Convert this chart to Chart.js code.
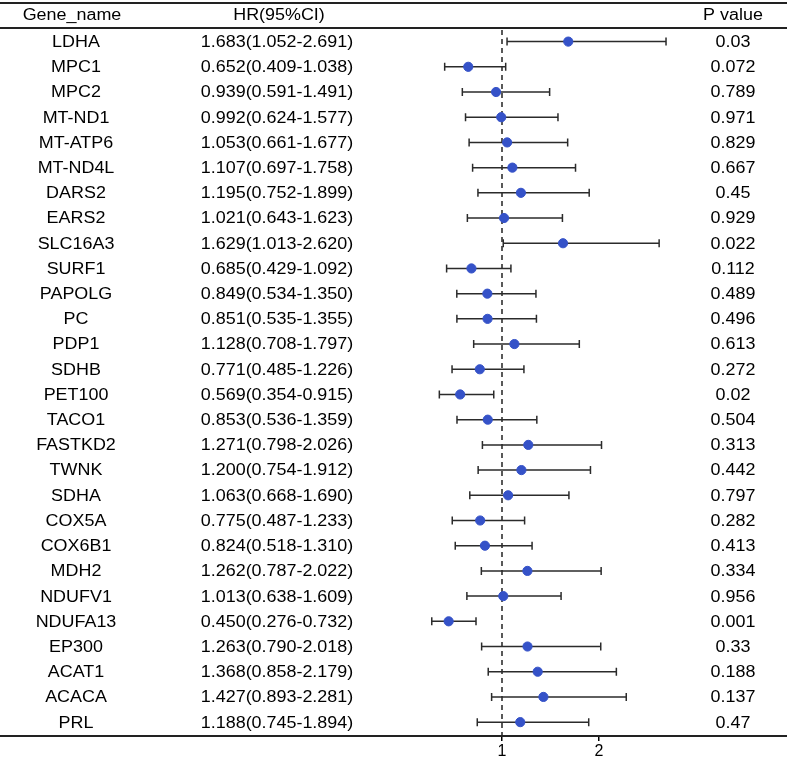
<!DOCTYPE html>
<html>
<head>
<meta charset="utf-8">
<script src="https://cdn.jsdelivr.net/npm/chart.js@4.4.1/dist/chart.umd.min.js"></script>
<style>
  body { margin: 0; background: #fff; }
  #wrap { width: 789px; height: 759px; }
</style>
</head>
<body>
<div id="wrap"><canvas id="mycanvas" width="789" height="759"></canvas></div>
<script>
// forest plot data
var genes = ["LDHA", "MPC1", "MPC2", "MT-ND1", "MT-ATP6", "MT-ND4L", "DARS2", "EARS2",
  "SLC16A3", "SURF1", "PAPOLG", "PC", "PDP1", "SDHB", "PET100", "TACO1", "FASTKD2",
  "TWNK", "SDHA", "COX5A", "COX6B1", "MDH2", "NDUFV1", "NDUFA13", "EP300", "ACAT1",
  "ACACA", "PRL"];
var hr = [1.683, 0.652, 0.939, 0.992, 1.053, 1.107, 1.195, 1.021, 1.629, 0.685, 0.849,
  0.851, 1.128, 0.771, 0.569, 0.853, 1.271, 1.200, 1.063, 0.775, 0.824, 1.262, 1.013,
  0.450, 1.263, 1.368, 1.427, 1.188];
var lower = [1.052, 0.409, 0.591, 0.624, 0.661, 0.697, 0.752, 0.643, 1.013, 0.429, 0.534,
  0.535, 0.708, 0.485, 0.354, 0.536, 0.798, 0.754, 0.668, 0.487, 0.518, 0.787, 0.638,
  0.276, 0.790, 0.858, 0.893, 0.745];
var upper = [2.691, 1.038, 1.491, 1.577, 1.677, 1.758, 1.899, 1.623, 2.620, 1.092, 1.350,
  1.355, 1.797, 1.226, 0.915, 1.359, 2.026, 1.912, 1.690, 1.233, 1.310, 2.022, 1.609,
  0.732, 2.018, 2.179, 2.281, 1.894];
var pvalues = ["0.03", "0.072", "0.789", "0.971", "0.829", "0.667", "0.45", "0.929", "0.022",
  "0.112", "0.489", "0.496", "0.613", "0.272", "0.02", "0.504", "0.313", "0.442", "0.797",
  "0.282", "0.413", "0.334", "0.956", "0.001", "0.33", "0.188", "0.137", "0.47"];
var xTicks = [1, 2];

var FONT = "'Liberation Sans', Arial, sans-serif";

var points = [];
for (var i in hr) {
    points.push({x: hr[i], y: Number(i)});
}

// text in the picture is a bit wider than plain Arial, so stretch it a little
function wideText(ctx, txt, x, y) {
    ctx.save();
    ctx.translate(x, y);
    ctx.scale(1.12, 1);
    ctx.fillText(txt, 0, 0);
    ctx.restore();
}

var forestPlugin = {
    id: 'forest',
    beforeDatasetsDraw: function(chart) {
        var ctx = chart.ctx;
        var xs = chart.scales.x;
        var ys = chart.scales.y;
        var area = chart.chartArea;

        // reference line at HR = 1
        ctx.save();
        ctx.strokeStyle = '#000';
        ctx.lineWidth = 1.3;
        ctx.setLineDash([5, 4]);
        ctx.beginPath();
        ctx.moveTo(xs.getPixelForValue(1), area.top + 1);
        ctx.lineTo(xs.getPixelForValue(1), area.bottom);
        ctx.stroke();
        ctx.restore();

        // confidence intervals
        ctx.save();
        ctx.strokeStyle = '#2b2b2b';
        ctx.lineWidth = 1.5;
        for (var i = 0; i < hr.length; i++) {
            var y = ys.getPixelForValue(i);
            var x0 = xs.getPixelForValue(lower[i]);
            var x1 = xs.getPixelForValue(upper[i]);
            ctx.beginPath();
            ctx.moveTo(x0, y); ctx.lineTo(x1, y);
            ctx.moveTo(x0, y - 4); ctx.lineTo(x0, y + 4);
            ctx.moveTo(x1, y - 4); ctx.lineTo(x1, y + 4);
            ctx.stroke();
        }
        ctx.restore();
    },
    afterDraw: function(chart) {
        var ctx = chart.ctx;
        var ys = chart.scales.y;
        var W = chart.width;

        ctx.save();
        // table rules
        ctx.strokeStyle = '#222';
        ctx.lineWidth = 2;
        ctx.beginPath();
        ctx.moveTo(0, 3); ctx.lineTo(W - 2, 3);
        ctx.moveTo(0, 28); ctx.lineTo(W - 2, 28);
        ctx.moveTo(0, chart.chartArea.bottom); ctx.lineTo(W - 2, chart.chartArea.bottom);
        ctx.stroke();

        // text columns
        ctx.fillStyle = '#000';
        ctx.font = '16px ' + FONT;
        ctx.textAlign = 'center';
        ctx.textBaseline = 'middle';
        wideText(ctx, 'Gene_name', 72, 16);
        wideText(ctx, 'HR(95%CI)', 279, 16);
        wideText(ctx, 'P value', 733, 16);
        for (var i = 0; i < genes.length; i++) {
            var y = ys.getPixelForValue(i) + 1;
            wideText(ctx, genes[i], 76, y);
            wideText(ctx, hr[i].toFixed(3) + '(' + lower[i].toFixed(3) + '-' + upper[i].toFixed(3) + ')', 277, y);
            wideText(ctx, pvalues[i], 733, y);
        }
        ctx.restore();
    }
};

var ctx = document.getElementById('mycanvas');

var forest = new Chart(ctx, {
    type: 'scatter',
    data: {
        datasets: [{
            label: 'HR',
            data: points,
            backgroundColor: '#3552c8',
            borderColor: '#3552c8',
            pointRadius: 4.6,
            pointHoverRadius: 4.6
        }]
    },
    options: {
        responsive: false,
        animation: false,
        events: [],
        layout: {padding: {left: 405, right: 93, top: 29, bottom: 0}},
        plugins: {legend: {display: false}, tooltip: {enabled: false}},
        scales: {
            x: {
                type: 'linear',
                min: 0,
                max: 3,
                border: {display: false},
                grid: {drawOnChartArea: false, drawTicks: true, tickLength: 5, color: '#000', lineWidth: 1.5},
                afterBuildTicks: function(scale) {
                    scale.ticks = xTicks.map(function(v) { return {value: v}; });
                },
                afterFit: function(scale) { scale.height = 23; },
                ticks: {color: '#000', padding: 1, font: {family: FONT, size: 16}}
            },
            y: {
                type: 'linear',
                reverse: true,
                min: -0.5,
                max: 27.55,
                display: false
            }
        }
    },
    plugins: [forestPlugin]
});
</script>
</body>
</html>
